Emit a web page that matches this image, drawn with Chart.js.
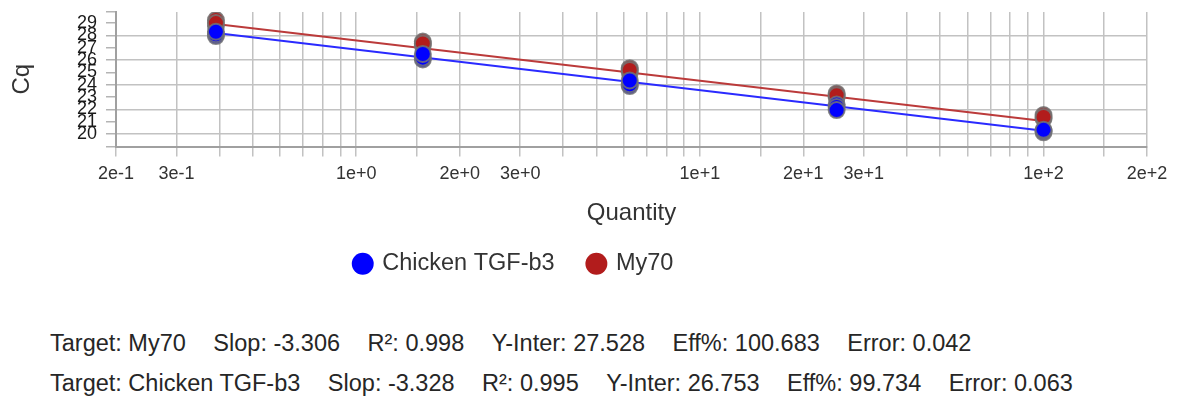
<!DOCTYPE html>
<html>
<head>
<meta charset="utf-8">
<title>Standard curve</title>
<script src="https://cdn.jsdelivr.net/npm/chart.js@4.4.1/dist/chart.umd.min.js"></script>
<style>
  html, body { margin: 0; padding: 0; background: #fff; }
  #wrap { position: relative; width: 1181px; height: 401px; overflow: hidden; }
  #curve { position: absolute; left: 0; top: 0; }
  .stats {
    position: absolute; left: 50px; top: 323px;
    font: 23.5px 'Liberation Sans', Arial, sans-serif;
    line-height: 40px; color: #262626; white-space: nowrap;
  }
  .stats span { margin-right: 27.5px; }
</style>
</head>
<body>
<div id="wrap">
  <canvas id="curve" width="1181" height="309"></canvas>
  <div class="stats">
    <div><span>Target: My70</span><span>Slop: -3.306</span><span>R²: 0.998</span><span>Y-Inter: 27.528</span><span>Eff%: 100.683</span><span>Error: 0.042</span></div>
    <div><span>Target: Chicken TGF-b3</span><span>Slop: -3.328</span><span>R²: 0.995</span><span>Y-Inter: 26.753</span><span>Eff%: 99.734</span><span>Error: 0.063</span></div>
  </div>
</div>
<script>
// ---------- data ----------
const quantities = [0.390625, 1.5625, 6.25, 25, 100];
// three replicates per standard, Cq values
const tgfCq  = [[27.95, 28.1, 28.3], [26.05, 26.2, 26.5], [23.9, 24.05, 24.35], [22.4, 22.2, 21.95], [20.15, 20.25, 20.35]];
const my70Cq = [[28.75, 29.25, 29.0], [27.2, 27.5, 27.35], [25.0, 25.35, 25.2], [23.0, 23.3, 23.15], [21.25, 21.55, 21.4]];
// regression line end points
const fitQuantities = [0.390625, 100];
const tgfFit  = [28.2, 20.27];
const my70Fit = [28.93, 21.07];
// y ticks: every cycle gets a mark, only 20..29 get a label
const yTickValues = [19, 20, 21, 22, 23, 24, 25, 26, 27, 28, 29, 29.9];
const yTickLabels = [20, 21, 22, 23, 24, 25, 26, 27, 28, 29];
const yGridValues = [20, 22, 24, 26, 28];
const xLabelMantissas = [1, 2, 3];

const FONT = "'Liberation Sans', Arial, sans-serif";
const BLUE = '#0000ff';
const RED = '#b21c1c';

function toPoints(xs, reps) {
  const pts = [];
  xs.forEach((x, i) => reps[i].forEach((y) => pts.push({ x: x, y: y })));
  return pts;
}
function toLine(xs, ys) {
  return xs.map((x, i) => ({ x: x, y: ys[i] }));
}

// move the legend to where the original sits (it is not centred on the canvas)
const legendPlace = {
  id: 'legendPlace',
  afterLayout(chart) {
    const lg = chart.legend;
    const h = lg.bottom - lg.top;
    lg.left = 321;
    lg.top = 218;
    lg.bottom = lg.top + h;
  }
};

new Chart(document.getElementById('curve'), {
  type: 'scatter',
  data: {
    datasets: [
      { label: 'Chicken TGF-b3', data: toPoints(quantities, tgfCq), order: 0,
        backgroundColor: BLUE, borderColor: 'rgba(115,115,115,0.85)', borderWidth: 2, pointRadius: 8 },
      { label: 'My70', data: toPoints(quantities, my70Cq), order: 1,
        backgroundColor: RED, borderColor: 'rgba(115,115,115,0.85)', borderWidth: 2, pointRadius: 8 },
      { label: '', data: toLine(fitQuantities, tgfFit), order: 2, showLine: true,
        borderColor: '#2a2aff', borderWidth: 2, pointRadius: 0 },
      { label: '', data: toLine(fitQuantities, my70Fit), order: 3, showLine: true,
        borderColor: '#bb3a3a', borderWidth: 2, pointRadius: 0 }
    ]
  },
  options: {
    responsive: false,
    animation: false,
    devicePixelRatio: 1,
    layout: { padding: { top: 12, right: 34, left: 0, bottom: 0 } },
    plugins: {
      tooltip: { enabled: false },
      legend: {
        position: 'bottom',
        align: 'start',
        labels: {
          usePointStyle: true,
          boxWidth: 15.5,
          boxHeight: 15.5,
          padding: 34,
          color: '#333',
          font: { family: FONT, size: 23.5 },
          filter: (item) => item.text !== '',
          generateLabels: (chart) => chart.data.datasets.map((ds, i) => ({
            text: ds.label,
            fillStyle: ds.backgroundColor,
            strokeStyle: ds.backgroundColor,
            lineWidth: 0,
            pointStyle: 'circle',
            fontColor: '#333',
            hidden: false,
            datasetIndex: i
          }))
        }
      }
    },
    scales: {
      x: {
        type: 'logarithmic',
        min: 0.2,
        max: 200,
        afterFit: (s) => { s.height = 95; },
        title: { display: true, text: 'Quantity', color: '#333',
                 font: { family: FONT, size: 24 }, padding: { top: 0, bottom: 14 } },
        ticks: {
          autoSkip: false, maxRotation: 0, padding: 7, color: '#333',
          font: { family: FONT, size: 18 },
          callback: (v) => {
            const m = Math.round(v / Math.pow(10, Math.floor(Math.log10(v) + 1e-9)) * 100) / 100;
            return xLabelMantissas.includes(m) ? v.toExponential(0) : '';
          }
        },
        grid: { color: '#c2c2c2', lineWidth: 1.5, tickLength: 10, tickColor: '#c2c2c2' },
        border: { color: '#a0a0a0', width: 2 }
      },
      y: {
        min: 19,
        max: 29.9,
        afterFit: (s) => { s.width = 116; s.paddingTop = 0; s.paddingBottom = 0; },
        afterBuildTicks: (s) => { s.ticks = yTickValues.map((v) => ({ value: v })); },
        title: { display: true, text: 'Cq', color: '#333',
                 font: { family: FONT, size: 24 }, padding: { top: 8, bottom: 0 } },
        ticks: {
          autoSkip: false, padding: 9, color: '#1a1a1a',
          font: { family: FONT, size: 18 },
          callback: (v) => yTickLabels.includes(v) ? String(v) : ''
        },
        grid: {
          lineWidth: 1.5, tickLength: 10, tickColor: '#b4b4b4',
          color: (ctx) => (ctx.tick && yGridValues.includes(ctx.tick.value)) ? '#c2c2c2' : 'rgba(0,0,0,0)'
        },
        border: { color: '#a0a0a0', width: 2 }
      }
    }
  },
  plugins: [legendPlace]
});
</script>
</body>
</html>
